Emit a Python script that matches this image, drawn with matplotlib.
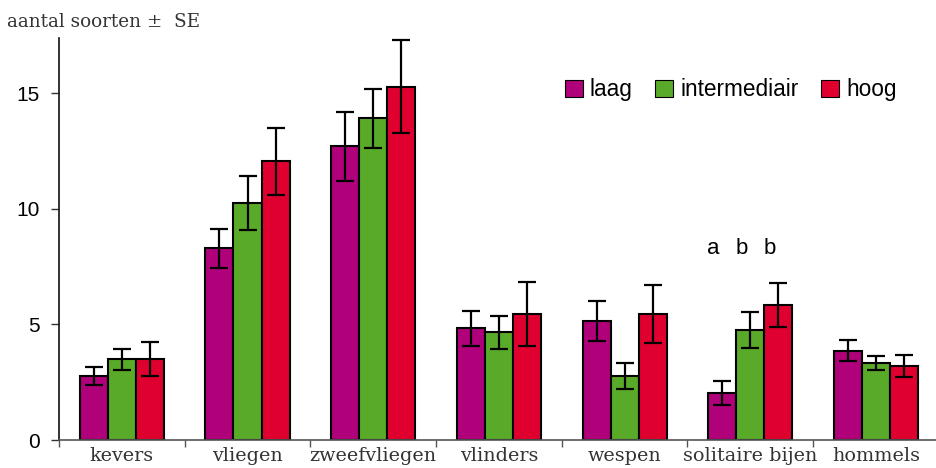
import matplotlib.pyplot as plt
import numpy as np
from matplotlib.ticker import FixedLocator, MultipleLocator

# Data
categories = ['kevers', 'vliegen', 'zweefvliegen', 'vlinders', 'wespen', 'solitaire bijen', 'hommels']
series = ['laag', 'intermediair', 'hoog']
laag = [2.77, 8.30, 12.71, 4.83, 5.14, 2.02, 3.86]
laag_se = [0.41, 0.84, 1.50, 0.75, 0.87, 0.52, 0.46]
intermediair = [3.49, 10.25, 13.92, 4.66, 2.77, 4.76, 3.34]
intermediair_se = [0.45, 1.17, 1.28, 0.70, 0.57, 0.79, 0.30]
hoog = [3.52, 12.06, 15.30, 5.45, 5.45, 5.84, 3.20]
hoog_se = [0.73, 1.45, 2.03, 1.40, 1.26, 0.97, 0.47]
letters = ['a', 'b', 'b']
letter_cat = 5
letter_y = 8.3

colors = ['#B0007A', '#5AAA2A', '#E00030']

fig = plt.figure(figsize=(9.36, 4.68), dpi=100)
ax = fig.add_axes([0.063, 0.0598, 0.94, 0.859])

x = np.arange(len(categories))
w = 0.223
for i, (vals, se) in enumerate([(laag, laag_se), (intermediair, intermediair_se), (hoog, hoog_se)]):
    pos = x + (i - 1) * w
    ax.bar(pos, vals, width=w, color=colors[i], edgecolor='black', linewidth=1.5,
           label=series[i], zorder=2)
    ax.errorbar(pos, vals, yerr=se, fmt='none', ecolor='black', elinewidth=1.6,
                capsize=6.5, capthick=1.6, zorder=3)

# significance letters
for i, s in enumerate(letters):
    ax.text(letter_cat + (i - 1) * w - 0.07, letter_y, s, ha='center', va='center',
            fontsize=16, family='Liberation Sans')

ax.set_xlim(-0.5, len(categories) - 0.5)
ax.set_ylim(0, 17.4)

# ticks
ax.xaxis.set_major_locator(FixedLocator(np.arange(len(categories) + 1) - 0.5))
ax.xaxis.set_minor_locator(FixedLocator(x))
ax.set_xticklabels([], minor=False)
ax.set_xticklabels(categories, minor=True, family='DejaVu Serif', fontsize=13.8, color='#333333')
ax.tick_params(axis='x', which='major', direction='out', length=5, width=1, color='#555555')
ax.tick_params(axis='x', which='minor', length=0, pad=5)
ax.yaxis.set_major_locator(MultipleLocator(5))
ax.tick_params(axis='y', direction='out', length=6, width=1, labelsize=15, pad=8, color='#333333')
for lab in ax.get_yticklabels():
    lab.set_family('Liberation Sans')

for s in ['top', 'right']:
    ax.spines[s].set_visible(False)
ax.spines['left'].set_linewidth(1.2)
ax.spines['left'].set_color('#111111')
ax.spines['bottom'].set_linewidth(1.2)
ax.spines['bottom'].set_color('#555555')

fig.text(0.008, 0.953, 'aantal soorten \u00b1  SE', family='DejaVu Serif', fontsize=13.2,
         color='#333333', va='center')

leg = ax.legend(loc='upper right', bbox_to_anchor=(0.975, 0.95), ncol=3, frameon=False,
                prop={'family': 'Liberation Sans', 'size': 16.3}, handlelength=0.8,
                handleheight=0.8, handletextpad=0.3, columnspacing=1.0)
for h in leg.legend_handles:
    h.set_linewidth(0.8)

fig.savefig('out.png', dpi=100)
